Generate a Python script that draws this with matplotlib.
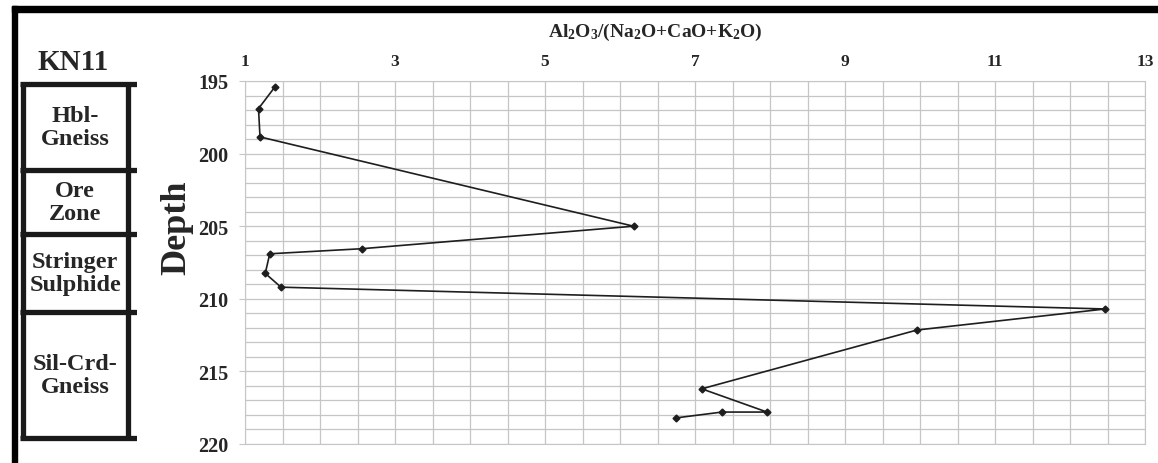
#!/usr/bin/env python3

import matplotlib
matplotlib.use("Agg")
import matplotlib.pyplot as plt
from matplotlib.ticker import MultipleLocator
from matplotlib.patches import Rectangle

# Al2O3/(Na2O+CaO+K2O) ratio down hole KN11
depth = [195.4, 196.9, 198.85, 205.0, 206.55, 206.9, 208.25, 209.2,
         210.7, 212.15, 216.2, 217.8, 217.8, 218.2]
ratio = [1.40, 1.18, 1.20, 6.18, 2.56, 1.33, 1.27, 1.48,
         12.47, 9.96, 7.09, 7.96, 7.36, 6.75]

# lithology column: unit boundaries (depth) and names
unit_bounds = [195.2, 201.1, 205.55, 210.9, 219.6]
unit_names = ["Hbl-\nGneiss", "Ore\nZone", "Stringer\nSulphide", "Sil-Crd-\nGneiss"]

x_ticks = [1, 3, 5, 7, 9, 11, 13]
y_ticks = [195, 200, 205, 210, 215, 220]

SERIF = "Liberation Serif"
GRID = "#c6c6c6"
INK = "#262626"


def main():
    plt.rcParams["font.family"] = SERIF
    plt.rcParams["font.weight"] = "bold"
    plt.rcParams["text.color"] = INK
    plt.rcParams["mathtext.fontset"] = "custom"
    plt.rcParams["mathtext.rm"] = SERIF + ":bold"
    plt.rcParams["mathtext.it"] = SERIF + ":bold"
    plt.rcParams["mathtext.bf"] = SERIF + ":bold"

    W, H = 1158, 464
    fig = plt.figure(figsize=(W / 100, H / 100), dpi=100)

    def box(x0, y0, x1, y1):
        # pixel box (top-left origin) -> figure fraction rect
        return [x0 / W, 1 - y1 / H, (x1 - x0) / W, (y1 - y0) / H]

    ax = fig.add_axes(box(245, 82, 1145, 445))
    ax.plot(ratio, depth, color="#1e1e1e", lw=1.2, marker="D", ms=3.5,
            zorder=3)
    ax.set_xlim(1, 13)
    ax.set_ylim(220, 195)
    ax.xaxis.tick_top()
    ax.set_xticks(x_ticks)
    ax.set_yticks(y_ticks)
    ax.xaxis.set_minor_locator(MultipleLocator(0.5))
    ax.yaxis.set_minor_locator(MultipleLocator(1))
    ax.grid(which="both", color=GRID, lw=0.9)
    ax.set_axisbelow(True)
    for s in ax.spines.values():
        s.set_color(GRID)
    ax.tick_params(axis="x", which="both", length=0, pad=9, labelsize=12.5,
                   labelcolor=INK)
    ax.tick_params(axis="y", which="major", length=4, color=GRID, pad=8,
                   labelsize=14.5, labelcolor=INK)
    ax.tick_params(axis="y", which="minor", length=0)

    fig.text(655 / W, 1 - 32 / H,
             r"$\mathrm{Al_2O_3/(Na_2O{+}CaO{+}K_2O)}$",
             ha="center", va="center", fontsize=14)
    fig.text(177 / W, 1 - 228 / H, "Depth", rotation=90, ha="center",
             va="center", fontsize=26)
    fig.text(73 / W, 1 - 63 / H, "KN11", ha="center", va="center",
             fontsize=21)

    # lithology column on the same depth scale
    col = fig.add_axes(box(20, 82, 137, 445))
    col.set_xlim(0, 1)
    col.set_ylim(220, 195)
    col.axis("off")
    lw = 3.8
    left, right = 0.025, 0.92
    col.vlines([left, right], unit_bounds[0], unit_bounds[-1], color="#1a1a1a",
               lw=lw)
    col.hlines(unit_bounds, 0, 1, color="#1a1a1a", lw=lw)
    for top, bot, name in zip(unit_bounds[:-1], unit_bounds[1:], unit_names):
        col.text((left + right) / 2, (top + bot) / 2, name, ha="center",
                 va="center", fontsize=17.5, linespacing=1.15)

    # black frame strips along top and left
    fig.patches.append(Rectangle((12 / W, 0), 5 / W, 1 - 7 / H,
                                 transform=fig.transFigure, color="black"))
    fig.patches.append(Rectangle((12 / W, 1 - 13 / H), 1 - 12 / W, 6 / H,
                                 transform=fig.transFigure, color="black"))

    fig.savefig("out.png", dpi=100, facecolor="white")


if __name__ == "__main__":
    main()
